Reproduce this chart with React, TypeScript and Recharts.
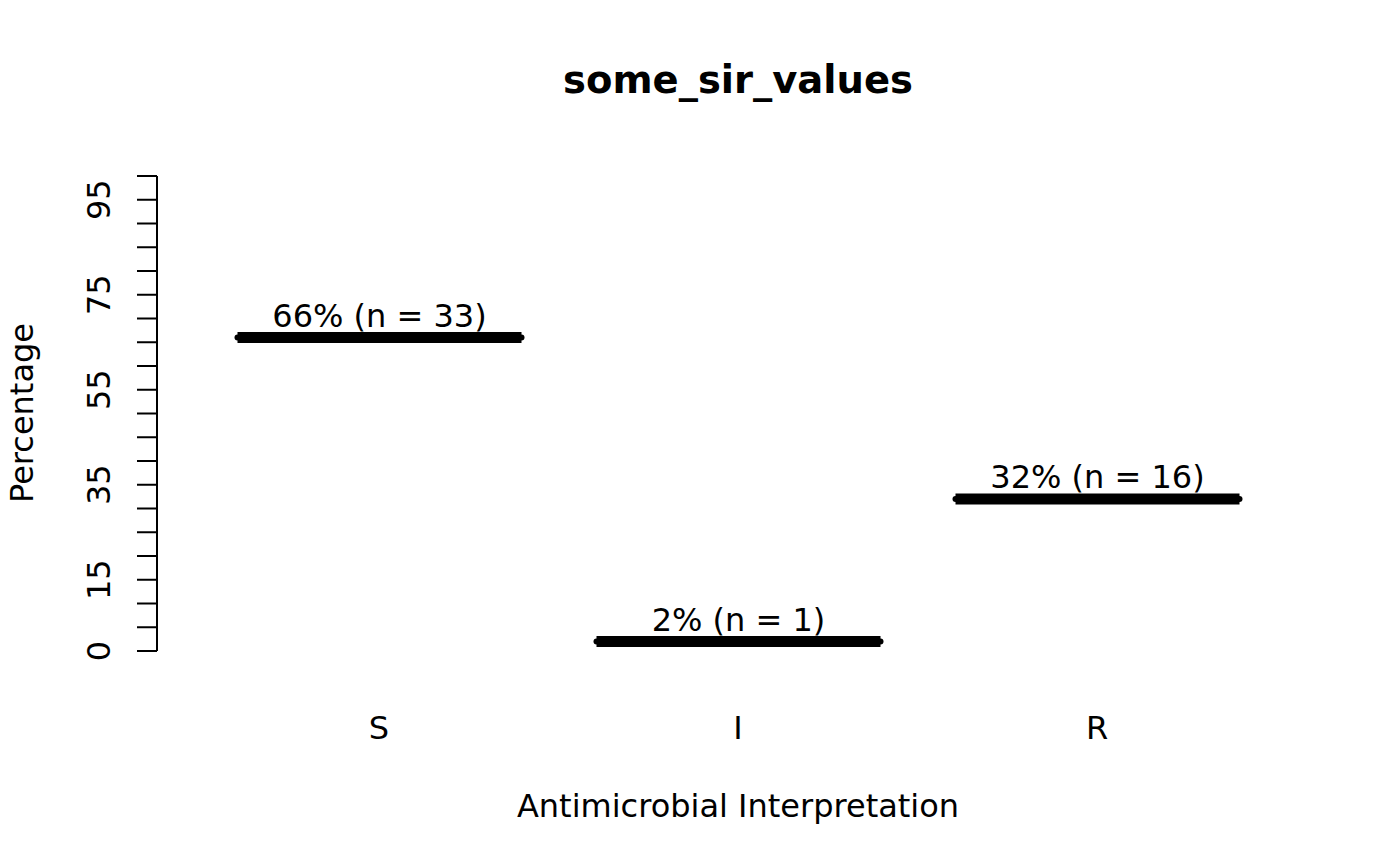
import { Bar, BarChart, Customized, XAxis, YAxis } from 'recharts'

const categories = ['S', 'I', 'R']
const percentages = [66, 2, 32]
const counts = [33, 1, 16]
const yTicks = [0, 5, 10, 15, 20, 25, 30, 35, 40, 45, 50, 55, 60, 65, 70, 75, 80, 85, 90, 95, 100]
const yTickLabels = [0, 15, 35, 55, 75, 95]
const chartTitle = 'some_sir_values'
const xTitle = 'Antimicrobial Interpretation'
const yTitle = 'Percentage'

const data = categories.map((c, i) => ({ interpretation: c, pct: percentages[i], n: counts[i] }))

const FONT = '"DejaVu Sans", sans-serif'
const TEXT_SIZE = 32

function LevelLine(props: any) {
  const { x, y, width, payload } = props
  return (
    <g>
      <line x1={x} x2={x + width} y1={y} y2={y} stroke="#000" strokeWidth={11} />
      <circle cx={x} cy={y} r={3} fill="#000" />
      <circle cx={x + width} cy={y} r={3} fill="#000" />
      <text x={x + width / 2} y={y - 11} textAnchor="middle" fontSize={TEXT_SIZE} fontFamily={FONT} fill="#000">
        {`${payload.pct}% (n = ${payload.n})`}
      </text>
    </g>
  )
}

function XTick({ x, y, payload }: any) {
  return (
    <text x={x} y={y} textAnchor="middle" fontSize={TEXT_SIZE} fontFamily={FONT} fill="#000">
      {payload.value}
    </text>
  )
}

function YTick({ x, y, payload }: any) {
  if (!yTickLabels.includes(payload.value)) return <g />
  return (
    <text x={x} y={y} transform={`rotate(-90 ${x} ${y})`} textAnchor="middle" fontSize={TEXT_SIZE} fontFamily={FONT} fill="#000">
      {payload.value}
    </text>
  )
}

function Titles() {
  return (
    <g fontFamily={FONT} fill="#000">
      <text x={738} y={93} textAnchor="middle" fontSize={38.5} fontWeight="bold">{chartTitle}</text>
      <text x={738} y={817} textAnchor="middle" fontSize={TEXT_SIZE}>{xTitle}</text>
      <text x={33} y={413} transform="rotate(-90 33 413)" textAnchor="middle" fontSize={TEXT_SIZE}>{yTitle}</text>
    </g>
  )
}

export default function App() {
  return (
    <div style={{ position: 'absolute', left: 0, top: 0, width: 1400, height: 866, background: '#fff' }}>
      <BarChart width={1400} height={866} data={data} margin={{ top: 176, right: 81, bottom: 85, left: 0 }}>
        <XAxis
          dataKey="interpretation"
          axisLine={false}
          tickLine={false}
          tickSize={0}
          tickMargin={88}
          height={130}
          interval={0}
          padding={{ left: 42.5, right: 42.5 }}
          tick={<XTick />}
        />
        <YAxis
          type="number"
          domain={[0, 100]}
          ticks={yTicks}
          interval={0}
          width={157}
          tickSize={20}
          tickMargin={27}
          axisLine={{ stroke: '#000', strokeWidth: 2 }}
          tickLine={{ stroke: '#000', strokeWidth: 2 }}
          tick={<YTick />}
        />
        <Bar dataKey="pct" barSize={284} shape={<LevelLine />} isAnimationActive={false} />
        <Customized component={<Titles />} />
      </BarChart>
    </div>
  )
}
